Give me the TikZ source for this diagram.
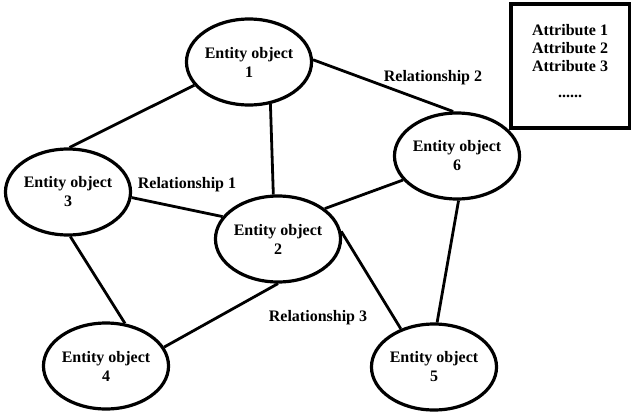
\documentclass[tikz,border=0pt]{standalone}
\usepackage{fontspec}
\setmainfont{Liberation Serif}
\usetikzlibrary{shapes.geometric}
\begin{document}
\begin{tikzpicture}[x=1pt,y=-1pt,
  label font/.style={font=\fontsize{16}{19}\selectfont\bfseries},
  entity/.style={ellipse,draw,line width=3.2pt,minimum width=124pt,minimum height=86pt,
    inner sep=0pt,align=center,label font},
  link/.style={line width=2.8pt},
  rel/.style={label font}]
\useasboundingbox (0,0) rectangle (631,415);
% entities
\node[entity] (e1) at (249,62)  {Entity object\\1};
\node[entity] (e2) at (278,239) {Entity object\\2};
\node[entity] (e3) at (68,192)  {Entity object\\3};
\node[entity] (e4) at (106,366) {Entity object\\4};
\node[entity] (e5) at (434,367) {Entity object\\5};
\node[entity] (e6) at (457,156) {Entity object\\6};
% attribute panel, open past the right border
\draw[line width=3.2pt] (631,4) -- (511,4) -- (511,128) -- (631,128);
\draw[line width=3.2pt] (629.4,4) -- (629.4,128);
\node[rel,align=center,font=\fontsize{16}{18}\selectfont\bfseries] (attr) at (570,48) {Attribute 1\\Attribute 2\\Attribute 3};
\node[rel] (dots) at (570,96) {......};
% relationships
\draw[link] (e1.203) -- (e3.88);
\draw[link] (e1.297) -- (e2.96);
\draw[link] (e1.2) -- (e6.95);
\draw[link] (e3.355) -- (e2.158);
\draw[link] (e3.273) -- (e4.66);
\draw[link] (e2.270) -- (e4.18);
\draw[link] (e2.7) -- (e5.131);
\draw[link] (e2.33) -- (e6.204);
\draw[link] (e6.272) -- (e5.86);
% relationship labels
\node[rel] (r1) at (187,185) {Relationship 1};
\node[rel] (r2) at (433,78) {Relationship 2};
\node[rel] (r3) at (318,318) {Relationship 3};
\end{tikzpicture}
\end{document}
